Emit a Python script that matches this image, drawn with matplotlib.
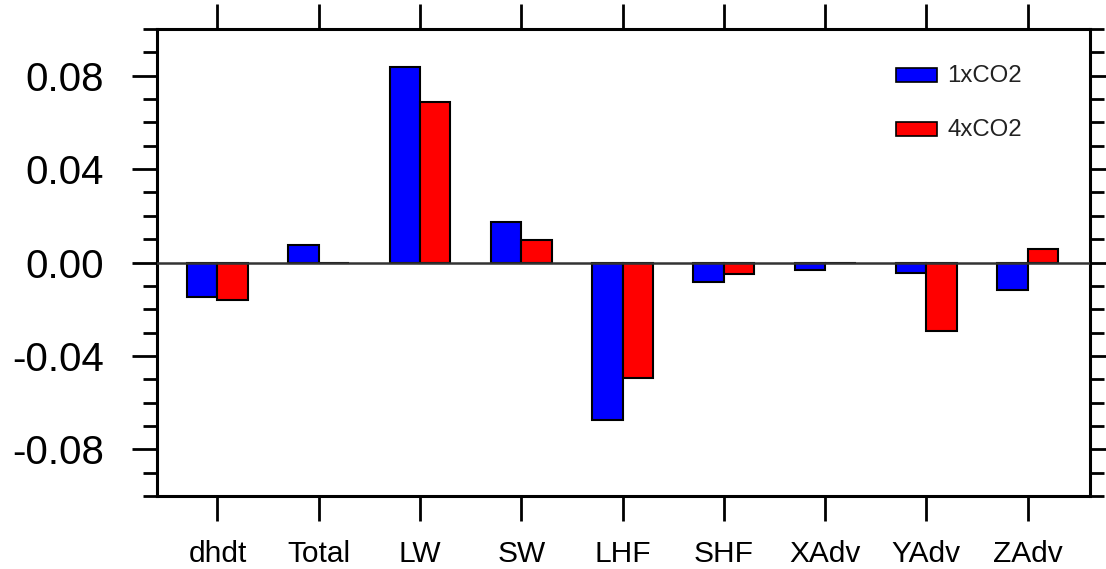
import matplotlib
matplotlib.use("Agg")
import matplotlib.pyplot as plt
import numpy as np
from matplotlib.patches import Rectangle
from matplotlib.ticker import MultipleLocator

categories = ["dhdt", "Total", "LW", "SW", "LHF", "SHF", "XAdv", "YAdv", "ZAdv"]
co2_1x = [-0.0147, 0.0074, 0.0836, 0.0173, -0.0674, -0.0083, -0.0030, -0.0044, -0.0118]
co2_4x = [-0.0161, -0.0003, 0.0686, 0.0098, -0.0494, -0.0051, -0.0003, -0.0292, 0.0057]
series_labels = ["1xCO2", "4xCO2"]
colors = ["#0000ff", "#ff0000"]
ytick_vals = [-0.08, -0.04, 0.0, 0.04, 0.08]
ytick_labels = ["-0.08", "-0.04", "0.00", "0.04", "0.08"]

plt.rcParams['font.family'] = ['Liberation Sans', 'DejaVu Sans']

W, H = 1106, 569
fig = plt.figure(figsize=(W / 100, H / 100), dpi=100)
ax = fig.add_axes([156.7 / W, 1 - 496 / H, (1090 - 156.7) / W, (496 - 29) / H])

x = np.arange(len(categories))
bw = 0.30
ax.bar(x - bw / 2, co2_1x, width=bw, color=colors[0], edgecolor="black", linewidth=1.5, zorder=2)
ax.bar(x + bw / 2, co2_4x, width=bw, color=colors[1], edgecolor="black", linewidth=1.5, zorder=2)
ax.axhline(0, color="#333333", linewidth=1.8, zorder=3)

ax.set_xlim(-0.6, len(categories) - 1 + 0.615)
ax.set_ylim(-0.1, 0.1)

ax.set_xticks(x)
ax.set_xticklabels(categories, fontsize=21.5)
ax.set_yticks(ytick_vals)
ax.set_yticklabels(ytick_labels, fontsize=29)
ax.yaxis.set_minor_locator(MultipleLocator(0.01))

ax.tick_params(axis="x", which="major", direction="out", length=18, width=2.0,
               top=True, bottom=True, pad=13.5)
ax.tick_params(axis="y", which="major", direction="out", length=18, width=2.0,
               left=True, right=True, pad=20)
ax.tick_params(axis="y", which="minor", direction="out", length=10, width=2.0,
               left=True, right=True)
for s in ax.spines.values():
    s.set_linewidth(2.2)

# legend drawn manually (pixel layout)
def px(xp, yp):
    return xp / W, 1 - yp / H

for i, (lab, c) in enumerate(zip(series_labels, colors)):
    yc = 75 + i * 54
    x0, y0 = px(896, yc + 7)
    fig.patches.append(Rectangle((x0, y0), 41 / W, 14 / H, transform=fig.transFigure,
                                 facecolor=c, edgecolor="black", linewidth=1.2))
    tx, ty = px(947, yc + 1)
    fig.text(tx, ty, lab, fontsize=17.3, va="center", ha="left", color="#222222")

fig.savefig("out.png", dpi=100)
